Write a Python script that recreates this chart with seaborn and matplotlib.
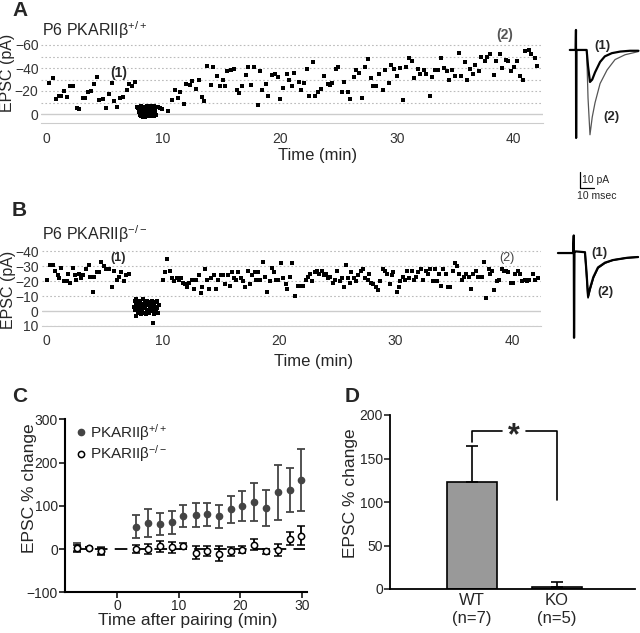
import matplotlib
matplotlib.use("Agg")
import matplotlib.pyplot as plt
import seaborn as sns

# ---- panel A: EPSC amplitude over time, PKARIIb +/+ ----
a_time_pre = [0.28, 0.57, 0.83, 1.1, 1.28, 1.57, 1.82, 2.05, 2.34, 2.62,
              2.85, 3.13, 3.36, 3.56, 3.82, 4.1, 4.39, 4.56, 4.84, 5.13,
              5.38, 5.61, 5.81, 6.1, 6.32, 6.61, 6.9, 7.1, 7.38, 7.6]
a_epsc_pre = [-27, -31, -13, -16, -16, -20, -15, -24, -24, -5,
              -4, -14, -14, -19, -20, -26, -32, -12, -13, -5,
              -17, -27, -11, -6, -14, -15, -21, -26, -24, -28]
a_time_pair = [7.8, 7.85, 7.9, 7.95, 8.0, 8.0, 8.05, 8.1, 8.1, 8.15,
               8.2, 8.25, 8.3, 8.3, 8.35, 8.4, 8.45, 8.5, 8.5, 8.55,
               8.6, 8.65, 8.7, 8.7, 8.75, 8.8, 8.85, 8.9, 8.95, 9.0,
               9.0, 9.05, 9.1, 9.15, 9.2, 9.25, 9.3, 9.35, 9.4, 9.5,
               9.6, 9.75, 9.9]
a_epsc_pair = [-6, -5, -6, -2, -6, 1, -4, -7, 2, -3,
               0, -6, -2, 3, -5, 1, -6, -1, 3, -4,
               -7, 0, -3, 2, -6, -1, -5, 2, -7, -3,
               1, -6, 0, -4, 2, -7, -2, -5, 1, -6,
               -6, -5, -4]
a_time_post = [10.46, 10.8, 11.05, 11.25, 11.5, 11.8, 12.0, 12.3, 12.5, 12.8,
               13.05, 13.3, 13.5, 13.8, 14.1, 14.3, 14.6, 14.9, 15.1, 15.3,
               15.5, 15.8, 16.1, 16.3, 16.5, 16.8, 17.1, 17.3, 17.5, 17.8,
               18.1, 18.3, 18.5, 18.8, 19.0, 19.3, 19.6, 19.8, 20.05, 20.3,
               20.6, 20.8, 21.0, 21.2, 21.6, 21.8, 22.05, 22.3, 22.5, 22.8,
               23.0, 23.3, 23.5, 23.8, 24.1, 24.3, 24.5, 24.8, 25.0, 25.3,
               25.5, 25.8, 26.0, 26.3, 26.5, 26.8, 27.0, 27.3, 27.5, 27.8,
               28.0, 28.2, 28.5, 28.8, 29.0, 29.3, 29.5, 29.8, 30.0, 30.3,
               30.5, 30.8, 31.0, 31.3, 31.5, 31.8, 32.0, 32.3, 32.5, 32.8,
               33.0, 33.3, 33.5, 33.8, 34.0, 34.3, 34.5, 34.7, 35.0, 35.3,
               35.5, 35.8, 36.0, 36.3, 36.5, 36.7, 37.0, 37.2, 37.5, 37.7,
               38.0, 38.3, 38.5, 38.8, 39.0, 39.3, 39.5, 39.8, 40.0, 40.3,
               40.5, 40.8, 41.0, 41.3, 41.5, 41.8, 42.0]
a_epsc_post = [-3, -12, -21, -14, -19, -9, -26, -25, -29, -22,
               -30, -15, -11, -42, -25, -41, -33, -24, -30, -24,
               -37, -38, -39, -21, -18, -24, -34, -41, -25, -41,
               -8, -37, -21, -26, -16, -34, -35, -32, -13, -23,
               -35, -30, -24, -36, -28, -21, -27, -39, -16, -45,
               -16, -19, -22, -33, -26, -25, -27, -39, -41, -19,
               -28, -19, -13, -32, -38, -36, -14, -41, -48, -31,
               -24, -24, -35, -21, -38, -27, -43, -39, -33, -40,
               -12, -41, -49, -46, -31, -39, -35, -38, -35, -16,
               -32, -38, -38, -49, -40, -37, -30, -38, -33, -53,
               -33, -45, -30, -39, -35, -43, -37, -50, -46, -50,
               -52, -34, -46, -52, -40, -47, -46, -37, -41, -46,
               -33, -30, -55, -56, -52, -49, -42]

# ---- panel B: EPSC amplitude over time, PKARIIb -/- ----
b_time_pre = [0.09, 0.29, 0.57, 0.74, 1.0, 1.14, 1.29, 1.51, 1.8, 1.86,
              2.08, 2.28, 2.45, 2.6, 2.8, 3.0, 3.17, 3.43, 3.66, 3.8,
              4.0, 4.14, 4.37, 4.57, 4.74, 4.94, 5.14, 5.37, 5.66, 5.86,
              6.08, 6.28, 6.46, 6.66, 6.86, 7.08]
b_epsc_pre = [-21, -31, -31, -27, -24, -22, -29, -20, -20, -25,
              -19, -29, -24, -21, -25, -22, -24, -28, -31, -23,
              -13, -23, -26, -26, -33, -30, -28, -28, -16, -27,
              -21, -23, -26, -20, -24, -25]
b_time_pair = [7.55, 7.6, 7.65, 7.7, 7.7, 7.75, 7.8, 7.85, 7.9, 7.95,
               8.0, 8.05, 8.1, 8.15, 8.2, 8.25, 8.3, 8.35, 8.4, 8.45,
               8.5, 8.55, 8.6, 8.65, 8.7, 8.75, 8.8, 8.85, 8.9, 8.95,
               9.0, 9.05, 9.1, 9.17, 9.2, 9.25, 9.3, 9.35, 9.4, 9.45,
               9.5, 9.55, 9.6, 9.7]
b_epsc_pair = [-3, -7, -1, 3, -5, -8, -2, 1, -6, -3,
               0, -7, -4, 2, -5, -1, -8, -3, 1, -6,
               -2, -5, 2, -7, -1, -4, 1, -6, -3, 0,
               -5, -2, -7, 8, -1, 2, -4, -6, 0, -3,
               -7, -2, 1, -4]
b_time_post = [10.0, 10.2, 10.4, 10.6, 10.8, 11.0, 11.2, 11.4, 11.6, 11.74,
               11.94, 12.1, 12.3, 12.5, 12.7, 12.9, 13.1, 13.3, 13.4, 13.6,
               13.85, 14.0, 14.2, 14.4, 14.6, 14.8, 15.0, 15.2, 15.4, 15.6,
               15.75, 15.95, 16.1, 16.3, 16.5, 16.7, 16.9, 17.1, 17.3, 17.5,
               17.7, 17.9, 18.0, 18.2, 18.4, 18.6, 18.8, 19.0, 19.2, 19.4,
               19.6, 19.7, 19.9, 20.2, 20.3, 20.6, 20.7, 20.9, 21.1, 21.4,
               21.65, 21.85, 22.1, 22.3, 22.45, 22.65, 22.85, 23.1, 23.3, 23.45,
               23.65, 23.85, 24.0, 24.2, 24.4, 24.6, 24.8, 25.0, 25.2, 25.4,
               25.6, 25.75, 25.9, 26.1, 26.2, 26.4, 26.6, 26.8, 27.0, 27.2,
               27.4, 27.6, 27.7, 27.9, 28.1, 28.3, 28.5, 28.7, 28.9, 29.1,
               29.3, 29.5, 29.7, 29.8, 30.1, 30.3, 30.4, 30.65, 30.8, 31.0,
               31.2, 31.4, 31.6, 31.8, 31.9, 32.2, 32.4, 32.6, 32.8, 33.0,
               33.2, 33.4, 33.6, 33.7, 33.95, 34.1, 34.3, 34.5, 34.7, 34.9,
               35.1, 35.3, 35.5, 35.7, 35.9, 36.1, 36.3, 36.5, 36.7, 36.9,
               37.1, 37.4, 37.6, 37.8, 38.0, 38.1, 38.3, 38.5, 38.7, 38.9,
               39.15, 39.3, 39.5, 39.7, 39.9, 40.1, 40.3, 40.5, 40.7, 40.9,
               41.1, 41.3, 41.5, 41.8, 42.0, 42.2]
b_epsc_post = [-21, -26, -35, -27, -22, -20, -22, -21, -22, -19,
               -18, -16, -19, -21, -15, -21, -24, -12, -16, -28,
               -21, -15, -22, -24, -15, -21, -24, -24, -18, -24,
               -17, -26, -22, -21, -26, -22, -20, -16, -27, -18,
               -24, -26, -21, -26, -21, -33, -23, -13, -20, -29,
               -26, -21, -21, -32, -22, -18, -15, -23, -32, -10,
               -17, -17, -17, -21, -23, -25, -20, -26, -27, -25,
               -27, -24, -25, -22, -23, -19, -21, -27, -20, -22,
               -16, -31, -22, -19, -26, -22, -20, -24, -27, -28,
               -22, -21, -25, -19, -18, -16, -14, -20, -28, -27,
               -25, -18, -24, -26, -13, -16, -20, -23, -21, -27,
               -22, -27, -21, -23, -26, -28, -21, -27, -25, -28,
               -20, -28, -20, -25, -17, -28, -25, -16, -16, -27,
               -32, -30, -25, -21, -23, -25, -23, -15, -25, -27,
               -23, -23, -33, -9, -28, -25, -27, -14, -20, -21,
               -28, -27, -27, -26, -19, -19, -25, -27, -25, -20,
               -21, -20, -21, -25, -21, -22]

# ---- example traces (ms, pA relative to baseline) ----
a_tr1_t = [7, 11.2, 11.4, 11.5, 11.7, 19.0, 20.0, 21.4, 23.0, 25.0, 28.6, 32.0, 37.0, 43.0, 50.0, 56.0]
a_tr1_v = [0, 0, 12.5, -55, 0, 0, -10, -20, -18.5, -14, -7.5, -4, -2, -1, -0.5, -0.5]
a_tr2_t = [19.0, 20.0, 21.4, 23.0, 25.0, 28.6, 33.6, 39.3, 46.4, 56.0]
a_tr2_v = [0, -30, -53, -42, -33, -21, -12.5, -6, -3, -1]
b_tr1_t = [2.1, 12.9, 13.4, 13.6, 13.9, 15.0, 21.4, 22.5, 23.6, 25.0, 27.4, 30.7, 35.7, 41.4, 51.4, 59.3]
b_tr1_v = [0, 0, 11, -53, 1, 1, 0.5, -12, -27, -22, -15, -9, -6, -4.4, -3, -2.5]
b_tr2_t = [21.4, 22.5, 23.6, 25.0, 27.4, 30.7, 35.7, 41.4, 51.4, 59.3]
b_tr2_v = [0.5, -13, -28, -23, -15.6, -9.4, -6.3, -4.4, -3, -2.5]

# ---- panel C: summary time course ----
c_time = [-6.5, -4.6, -2.7, 3.0, 4.9, 6.9, 8.8, 10.7, 12.7, 14.6,
          16.5, 18.4, 20.3, 22.2, 24.1, 26.1, 28.0, 29.9]
wt_mean = [5, 2, -4, 52, 61, 58, 62, 76, 79, 80, 76, 92, 100, 109, 95, 131, 137, 160]
wt_sem = [10, 3, 8, 26, 32, 26, 27, 26, 28, 26, 27, 31, 34, 43, 42, 63, 51, 71]
ko_mean = [2, 2, -5, 0, 0, 6, 4, 7, -8, -5, -11, -5, -2, 10, -5, -3, 24, 31]
ko_sem = [8, 3, 8, 10, 12, 12, 12, 8, 15, 12, 17, 10, 8, 13, 6, 14, 15, 22]

# ---- panel D: bar summary ----
d_groups = ["WT\n(n=7)", "KO\n(n=5)"]
d_mean = [123, 2]
d_sem = [41, 6]

sns.set_style("white")
plt.rcParams['font.family'] = ['Liberation Sans', 'DejaVu Sans']
plt.rcParams['mathtext.default'] = 'regular'

W, H = 640, 633
fig = plt.figure(figsize=(6.4, 6.33), dpi=100)


def px_axes(x0, y0, x1, y1):
    # axes from pixel box (top-left origin)
    return fig.add_axes([x0 / W, 1 - y1 / H, (x1 - x0) / W, (y1 - y0) / H])


def time_panel(ax, t, v, ylim, yticks, grid_vals):
    sns.scatterplot(x=t, y=v, ax=ax, marker='s', s=8, color='black', linewidth=0)
    ax.set_xlim(-0.4, 42.5)
    ax.set_ylim(*ylim)
    ax.set_yticks(yticks)
    ax.set_xticks([0, 10, 20, 30, 40])
    for g in grid_vals:
        ax.axhline(g, color='#bbbbbb', lw=0.8, ls=(0, (1.5, 2)), zorder=0)
    ax.axhline(0, color='#cccccc', lw=1.0, zorder=0)
    for s in ['top', 'right', 'left']:
        ax.spines[s].set_visible(False)
    ax.spines['bottom'].set_color('#cccccc')
    ax.tick_params(axis='y', length=0, labelsize=10, labelcolor='#333333', pad=2)
    ax.tick_params(axis='x', length=3, color='#cccccc', labelsize=10, labelcolor='#333333', pad=3)
    ax.set_xlabel("Time (min)", fontsize=12)
    ax.set_ylabel("EPSC (pA)", fontsize=11.5)


# Panel A
axA = px_axes(41.3, 42.7, 543, 123.2)
time_panel(axA, a_time_pre + a_time_pair + a_time_post,
           a_epsc_pre + a_epsc_pair + a_epsc_post,
           (8, -62), [-60, -40, -20, 0], [-60, -50, -40, -30, -20, -10])
axA.xaxis.set_label_coords(0.551, -0.31)
axA.yaxis.set_label_coords(-0.052, 0.62)
axA.text(6.2, -36, "(1)", fontsize=10, fontweight='bold', ha='center', va='center')
axA.text(39.2, -69, "(2)", fontsize=10, fontweight='bold', color='#555555',
         ha='center', va='center', clip_on=False)

# Panel B
axB = px_axes(41.5, 248.4, 541, 326)
time_panel(axB, b_time_pre + b_time_pair + b_time_post,
           b_epsc_pre + b_epsc_pair + b_epsc_post,
           (10, -42), [-40, -30, -20, -10, 0, 10], [-40, -30, -20, -10, 10])
axB.xaxis.set_label_coords(0.544, -0.36)
axB.yaxis.set_label_coords(-0.052, 0.46)
axB.text(6.2, -35.6, "(1)", fontsize=9, fontweight='bold', ha='center', va='center')
axB.text(39.6, -35.6, "(2)", fontsize=9, color='#444444', ha='center', va='center')

fig.text(42 / W, 1 - 30 / H, "P6 PKARIIβ$^{+/+}$", fontsize=11.5, va='center')
fig.text(42 / W, 1 - 234 / H, "P6 PKARIIβ$^{-/-}$", fontsize=11.5, va='center')

# example traces A + scale bar
axTA = px_axes(560, 25, 640, 205)
axTA.plot(a_tr2_t, a_tr2_v, color='#555555', lw=0.9)
axTA.plot(a_tr1_t, a_tr1_v, color='black', lw=1.6)
axTA.set_xlim(0, 57.1)
axTA.set_ylim(-96.9, 15.6)
axTA.axis('off')
axTA.text(30, 2.5, "(1)", fontsize=9.5, fontweight='bold', ha='center', va='center')
axTA.text(37, -42, "(2)", fontsize=9.5, fontweight='bold', ha='center', va='center')
axTA.plot([14.3, 14.3, 24.3], [-76.3, -86.3, -86.3], color='black', lw=0.9)
axTA.text(16.0, -81.3, "10 pA", fontsize=7.5, va='center', ha='left')
axTA.text(12.1, -91.5, "10 msec", fontsize=7.5, va='center', ha='left')

# example traces B
axTB = px_axes(555, 230, 640, 345)
axTB.plot(b_tr1_t, b_tr1_v, color='black', lw=1.6)
axTB.plot(b_tr2_t, b_tr2_v, color='black', lw=1.2)
axTB.set_xlim(0, 60.7)
axTB.set_ylim(-57.5, 14.4)
axTB.axis('off')
axTB.text(32, 0, "(1)", fontsize=9.5, fontweight='bold', ha='center', va='center')
axTB.text(35.7, -24.4, "(2)", fontsize=9.5, fontweight='bold', ha='center', va='center')

# Panel C
axC = px_axes(65, 419.3, 307, 592.3)
axC.axhline(0, xmin=0.04, xmax=0.99, color='black', lw=1.3, dashes=(7, 4), zorder=1)
eb_wt = axC.errorbar(c_time, wt_mean, yerr=wt_sem, fmt='o', color='#444444', mfc='#444444',
                     mec='#444444', ms=4.5, elinewidth=1.3, capsize=3, capthick=1.3, zorder=2)
eb_ko = axC.errorbar(c_time, ko_mean, yerr=ko_sem, fmt='o', color='black', mfc='white',
                     mec='black', ms=4.5, mew=1.1, elinewidth=1.3, capsize=3, capthick=1.3,
                     zorder=3)
axC.set_xlim(-8.5, 30.8)
axC.set_ylim(-100, 300)
axC.set_xticks([0, 10, 20, 30])
axC.set_yticks([-100, 0, 100, 200, 300])
sns.despine(ax=axC)
for s in ['left', 'bottom']:
    axC.spines[s].set_linewidth(1.5)
    axC.spines[s].set_color('black')
axC.tick_params(direction='out', length=4, width=1.3, labelsize=10, pad=1,
                left=True, bottom=True)
axC.set_xlabel("Time after pairing (min)", fontsize=12.5)
axC.set_ylabel("EPSC % change", fontsize=12.5)
axC.xaxis.set_label_coords(0.508, -0.118)
axC.yaxis.set_label_coords(-0.116, 0.60)
axC.legend([eb_wt[0], eb_ko[0]], ["PKARIIβ$^{+/+}$", "PKARIIβ$^{-/-}$"],
           loc='upper left', bbox_to_anchor=(0.04, 0.985), frameon=False, fontsize=11,
           handlelength=0.8, handletextpad=0.2, labelspacing=0.05, borderpad=0,
           borderaxespad=0)

# Panel D
axD = px_axes(390, 415, 635, 589)
sns.barplot(x=d_groups, y=d_mean, ax=axD, color='#999999', edgecolor='black',
            linewidth=1.2, width=0.59, saturation=1)
axD.errorbar([0, 1], d_mean, yerr=[[0, 0], d_sem], fmt='none', ecolor='black',
             elinewidth=1.2, capsize=4, capthick=1.2, zorder=3)
axD.set_xlim(-0.96, 1.92)
axD.set_ylim(0, 200)
axD.set_yticks([0, 50, 100, 150, 200])
sns.despine(ax=axD)
for s in ['left', 'bottom']:
    axD.spines[s].set_linewidth(1.3)
    axD.spines[s].set_color('black')
axD.tick_params(axis='y', direction='out', length=4, width=1.2, labelsize=10, pad=1, left=True)
axD.tick_params(axis='x', length=0, labelsize=12, pad=3)
axD.set_ylabel("EPSC % change", fontsize=12.5)
axD.yaxis.set_label_coords(-0.13, 0.55)
axD.plot([0, 0, 0.36], [169, 182, 182], color='black', lw=1.2)
axD.plot([0.64, 1, 1], [182, 182, 102], color='black', lw=1.2)
axD.text(0.5, 176, "*", fontsize=22, fontweight='bold', ha='center', va='center')

# panel letters
for letter, x, y in [("A", 12, 10), ("B", 12, 211), ("C", 12, 397), ("D", 345, 397)]:
    fig.text(x / W, 1 - y / H, letter, fontsize=15, fontweight='bold', va='center', ha='left')

fig.savefig("out.png", dpi=100)
